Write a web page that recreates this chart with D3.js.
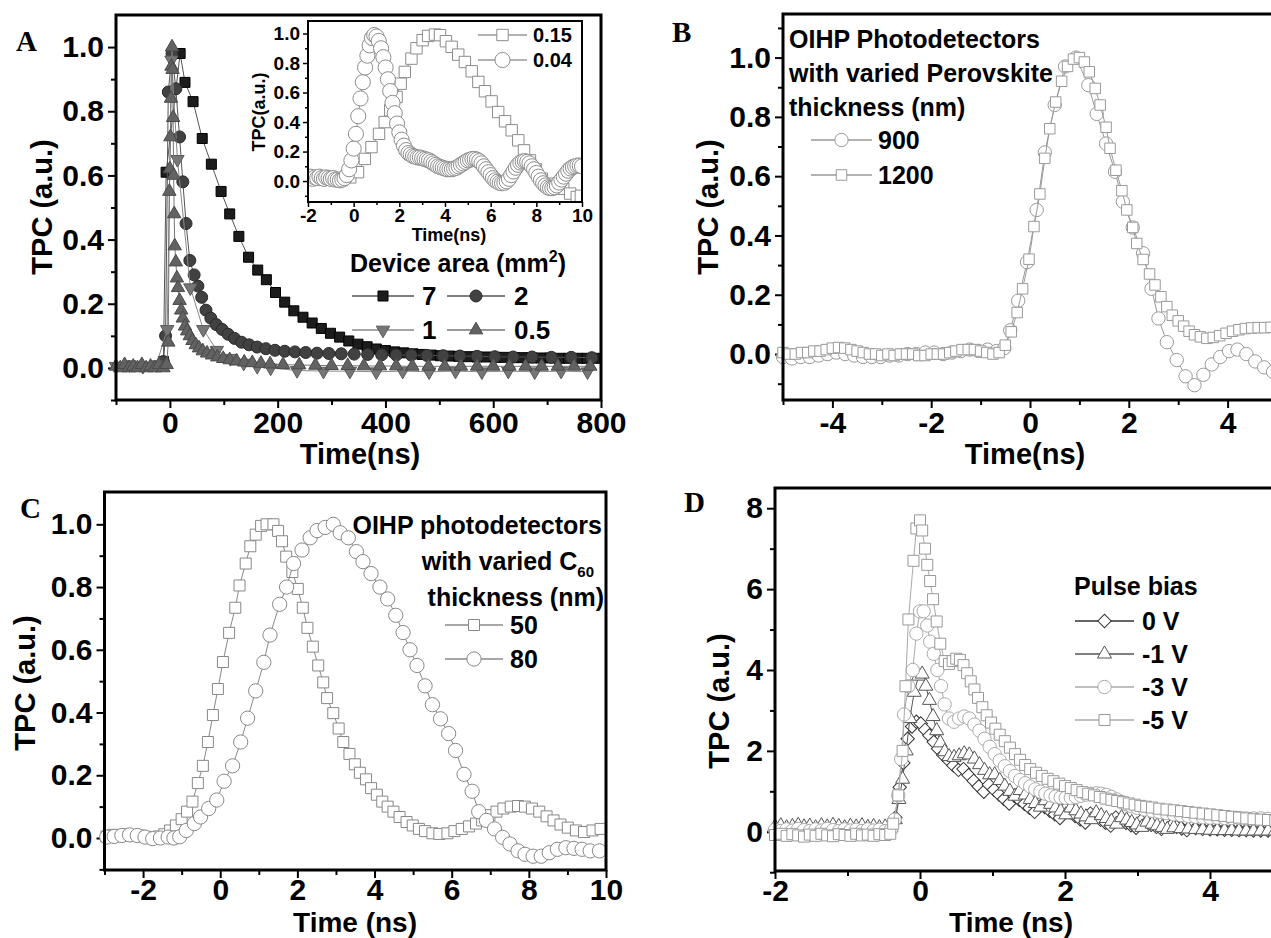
<!DOCTYPE html>
<html>
<head>
<meta charset="utf-8">
<script src="https://cdn.jsdelivr.net/npm/d3@7"></script>
<style>
  body { margin: 0; background: #fff; }
  svg { display: block; }
  text { font-family: "Liberation Sans", Arial, sans-serif; font-weight: bold; fill: #000; }
  text.letter { font-family: "Liberation Serif", "Times New Roman", serif; }
</style>
</head>
<body>
<svg id="fig" width="1271" height="938"></svg>
<script>
// ---------- data: [time, TPC] ----------

// A: device area series (mm^2), time in ns
const area7 = [[-12,0.02],[-7,0.61],[19,0.98],[28,0.89],[43,0.83],[60,0.715],[77,0.635],[95,0.55],[111,0.48],[128,0.41],[146,0.345],[163,0.305],[179,0.275],[196,0.235],[213,0.205],[230,0.178],[247,0.158],[264,0.14],[281,0.123],[298,0.108],[315,0.096],[332,0.084],[349,0.074],[366,0.066],[383,0.059],[400,0.054],[417,0.05],[434,0.047],[451,0.044],[468,0.042],[485,0.04],[502,0.038],[519,0.037],[536,0.036],[553,0.035],[570,0.034],[587,0.034],[604,0.033],[621,0.033],[638,0.032],[655,0.032],[672,0.031],[689,0.031],[706,0.031],[723,0.03],[740,0.03],[757,0.03],[774,0.03],[791,0.03]];
const area2 = [[-12,0.02],[-8,0.1],[-3,0.86],[4,0.98],[11,0.87],[18,0.72],[24,0.58],[30,0.45],[37,0.335],[45,0.29],[52,0.255],[59,0.22],[67,0.18],[76,0.155],[86,0.135],[97,0.12],[108,0.105],[120,0.092],[133,0.08],[147,0.072],[162,0.065],[178,0.06],[195,0.055],[213,0.052],[232,0.05],[252,0.048],[273,0.046],[295,0.045],[318,0.044],[342,0.043],[367,0.042],[393,0.041],[420,0.04],[448,0.04],[477,0.039],[507,0.038],[538,0.037],[570,0.036],[603,0.035],[637,0.034],[672,0.034],[708,0.033],[745,0.033],[783,0.032]];
const area1 = [[-100,0.005],[-75,0.01],[-50,0.005],[-25,0.01],[-5,0.12],[3,0.96],[14,0.65],[38,0.25],[62,0.12],[87,0.055],[112,0.03],[137,0.015],[162,0.005],[187,0.0],[236,-0.008],[285,-0.01],[334,-0.01],[383,-0.012],[432,-0.01],[481,-0.012],[530,-0.01],[579,-0.012],[628,-0.01],[677,-0.012],[726,-0.01],[775,-0.012]];
const area05 = [[-100,0.005],[-92,0.0],[-84,0.01],[-76,0.0],[-68,0.005],[-60,0.0],[-52,0.01],[-44,0.0],[-36,0.005],[-28,0.0],[-20,0.01],[-12,0.0],[-6,0.01],[-3,0.08],[-1,0.55],[0,0.62],[1,0.72],[2,0.84],[3,0.94],[4,1.0],[5,0.93],[6,0.78],[7,0.6],[8,0.48],[9,0.38],[11,0.33],[13,0.28],[15,0.25],[18,0.21],[21,0.18],[24,0.155],[28,0.13],[32,0.115],[37,0.1],[42,0.085],[48,0.072],[54,0.062],[61,0.053],[69,0.046],[78,0.04],[88,0.034],[99,0.029],[111,0.025],[124,0.021],[138,0.018],[153,0.016],[169,0.014],[186,0.012],[210,0.01],[240,0.009],[270,0.008],[300,0.007],[330,0.007],[360,0.006],[390,0.006],[420,0.006],[450,0.005],[480,0.005],[510,0.005],[540,0.005],[570,0.005],[600,0.005],[630,0.005],[660,0.005],[690,0.005],[720,0.005],[750,0.005],[780,0.005]];

// A inset: 0.15 and 0.04 mm^2
const inset015 = [[-1.95,0.02],[-1.66,0.015],[-1.37,0.02],[-1.08,0.015],[-0.79,0.02],[-0.5,0.01],[-0.15,0.025],[0.19,0.06],[0.49,0.15],[0.78,0.23],[1.11,0.32],[1.36,0.4],[1.6,0.48],[1.88,0.57],[2.06,0.66],[2.24,0.74],[2.53,0.83],[2.75,0.9],[3.02,0.955],[3.26,0.984],[3.56,0.993],[3.78,0.989],[4.04,0.948],[4.29,0.91],[4.58,0.857],[4.87,0.807],[5.17,0.744],[5.46,0.672],[5.75,0.609],[6.04,0.54],[6.33,0.468],[6.63,0.405],[6.92,0.344],[7.21,0.276],[7.46,0.208],[7.72,0.14],[7.98,0.079],[8.24,0.016],[8.57,-0.018],[8.9,-0.04],[9.18,-0.052],[9.48,-0.085],[9.77,-0.108],[9.95,-0.1]];
const inset004 = [[-2.0,0.02],[-1.9,0.03],[-1.8,0.015],[-1.7,0.025],[-1.6,0.02],[-1.5,0.03],[-1.4,0.02],[-1.3,0.015],[-1.2,0.025],[-1.1,0.02],[-1.0,0.015],[-0.9,0.02],[-0.8,0.01],[-0.7,0.01],[-0.6,0.005],[-0.5,0.01],[-0.4,0.02],[-0.3,0.04],[-0.2,0.08],[-0.1,0.14],[0.0,0.22],[0.1,0.32],[0.2,0.44],[0.3,0.56],[0.4,0.67],[0.5,0.77],[0.6,0.85],[0.7,0.92],[0.8,0.97],[0.9,0.99],[1.0,0.98],[1.1,0.95],[1.2,0.9],[1.3,0.84],[1.4,0.77],[1.5,0.69],[1.6,0.61],[1.7,0.53],[1.8,0.46],[1.9,0.39],[2.0,0.33],[2.1,0.28],[2.2,0.24],[2.3,0.21],[2.4,0.19],[2.5,0.18],[2.6,0.17],[2.7,0.165],[2.8,0.16],[2.9,0.16],[3.0,0.155],[3.1,0.15],[3.2,0.145],[3.3,0.14],[3.4,0.13],[3.5,0.12],[3.6,0.11],[3.7,0.1],[3.8,0.095],[3.9,0.09],[4.0,0.085],[4.1,0.08],[4.2,0.08],[4.3,0.08],[4.4,0.085],[4.5,0.09],[4.6,0.1],[4.7,0.11],[4.8,0.12],[4.9,0.13],[5.0,0.14],[5.1,0.145],[5.2,0.15],[5.3,0.15],[5.4,0.145],[5.5,0.135],[5.6,0.12],[5.7,0.1],[5.8,0.08],[5.9,0.06],[6.0,0.04],[6.1,0.02],[6.2,0.005],[6.3,-0.005],[6.4,-0.012],[6.5,-0.015],[6.6,-0.012],[6.7,-0.002],[6.8,0.015],[6.9,0.04],[7.0,0.065],[7.1,0.09],[7.2,0.11],[7.3,0.125],[7.4,0.132],[7.5,0.135],[7.6,0.13],[7.7,0.12],[7.8,0.1],[7.9,0.08],[8.0,0.055],[8.1,0.03],[8.2,0.005],[8.3,-0.015],[8.4,-0.03],[8.5,-0.042],[8.6,-0.048],[8.7,-0.048],[8.8,-0.042],[8.9,-0.03],[9.0,-0.01],[9.1,0.01],[9.2,0.03],[9.3,0.05],[9.4,0.07],[9.5,0.085],[9.6,0.095],[9.7,0.1],[9.8,0.105],[9.9,0.105],[10.0,0.1]];

// B: perovskite thickness 900 / 1200 nm
const perov900 = [[-5.0,-0.01],[-4.82,-0.015],[-4.64,-0.01],[-4.46,-0.01],[-4.28,-0.005],[-4.1,0.0],[-3.92,0.005],[-3.74,0.0],[-3.56,-0.005],[-3.38,-0.01],[-3.2,-0.01],[-3.02,-0.01],[-2.84,-0.005],[-2.66,-0.005],[-2.48,0.0],[-2.3,0.0],[-2.12,0.005],[-1.94,0.005],[-1.76,0.0],[-1.58,0.005],[-1.4,0.01],[-1.22,0.015],[-1.04,0.01],[-0.86,0.015],[-0.68,0.01],[-0.52,0.02],[-0.4,0.08],[-0.24,0.18],[-0.06,0.31],[0.135,0.486],[0.3,0.68],[0.5,0.84],[0.71,0.97],[0.93,1.0],[1.18,0.907],[1.35,0.81],[1.54,0.71],[1.72,0.615],[1.88,0.514],[2.08,0.427],[2.29,0.34],[2.46,0.22],[2.6,0.12],[2.77,0.04],[2.97,-0.02],[3.15,-0.075],[3.33,-0.105],[3.51,-0.07],[3.68,-0.035],[3.85,-0.01],[4.03,0.01],[4.2,0.015],[4.38,0.0],[4.56,-0.025],[4.74,-0.045],[4.92,-0.06]];
const perov1200 = [[-5.0,0.005],[-4.875,0.0],[-4.75,0.0],[-4.625,0.005],[-4.5,0.005],[-4.375,0.01],[-4.25,0.01],[-4.125,0.015],[-4.0,0.02],[-3.875,0.022],[-3.75,0.02],[-3.625,0.015],[-3.5,0.01],[-3.375,0.005],[-3.25,0.0],[-3.125,0.0],[-3.0,-0.005],[-2.875,0.0],[-2.75,-0.005],[-2.625,0.0],[-2.5,0.0],[-2.375,0.0],[-2.25,-0.005],[-2.125,-0.005],[-2.0,0.0],[-1.875,0.0],[-1.75,0.0],[-1.625,0.005],[-1.5,0.01],[-1.375,0.015],[-1.25,0.015],[-1.125,0.015],[-1.0,0.01],[-0.875,0.005],[-0.75,0.0],[-0.625,0.005],[-0.5,0.03],[-0.38,0.075],[-0.26,0.14],[-0.15,0.22],[-0.02,0.32],[0.08,0.43],[0.2,0.54],[0.3,0.66],[0.4,0.76],[0.52,0.85],[0.64,0.92],[0.76,0.97],[0.88,0.995],[1.0,1.0],[1.1,0.985],[1.2,0.952],[1.32,0.896],[1.42,0.84],[1.54,0.765],[1.62,0.694],[1.74,0.62],[1.86,0.551],[1.96,0.486],[2.08,0.427],[2.16,0.373],[2.29,0.319],[2.42,0.27],[2.53,0.233],[2.65,0.193],[2.77,0.16],[2.88,0.131],[3.0,0.112],[3.11,0.094],[3.22,0.077],[3.33,0.065],[3.45,0.058],[3.58,0.053],[3.71,0.056],[3.84,0.062],[3.97,0.07],[4.1,0.077],[4.23,0.082],[4.36,0.086],[4.49,0.088],[4.62,0.089],[4.75,0.089],[4.88,0.09]];

// C: C60 thickness 50 / 80 nm
const c60_50 = [[-2.95,0.005],[-2.78,0.01],[-2.61,0.008],[-2.44,0.012],[-2.27,0.01],[-2.1,0.008],[-1.93,0.004],[-1.76,0.0],[-1.59,0.005],[-1.45,0.012],[-1.3,0.024],[-1.15,0.04],[-1.0,0.06],[-0.86,0.084],[-0.72,0.116],[-0.58,0.175],[-0.45,0.23],[-0.32,0.306],[-0.19,0.392],[-0.06,0.475],[0.07,0.561],[0.23,0.654],[0.39,0.734],[0.5,0.805],[0.66,0.875],[0.78,0.93],[0.92,0.967],[1.06,0.995],[1.2,1.0],[1.38,1.0],[1.5,0.979],[1.6,0.946],[1.71,0.897],[1.87,0.848],[2.01,0.794],[2.14,0.734],[2.26,0.67],[2.4,0.61],[2.54,0.55],[2.67,0.496],[2.77,0.446],[2.93,0.398],[3.07,0.349],[3.19,0.306],[3.35,0.268],[3.49,0.235],[3.62,0.208],[3.78,0.187],[3.91,0.159],[4.06,0.138],[4.2,0.116],[4.34,0.1],[4.49,0.084],[4.65,0.067],[4.83,0.051],[4.99,0.04],[5.15,0.029],[5.31,0.022],[5.5,0.015],[5.68,0.013],[5.89,0.015],[6.07,0.022],[6.26,0.029],[6.45,0.037],[6.63,0.046],[6.79,0.056],[6.98,0.073],[7.16,0.084],[7.34,0.094],[7.53,0.1],[7.72,0.102],[7.9,0.1],[8.08,0.094],[8.27,0.084],[8.46,0.069],[8.64,0.056],[8.82,0.043],[9.01,0.033],[9.22,0.024],[9.43,0.019],[9.65,0.024],[9.86,0.029]];
const c60_80 = [[-2.94,0.003],[-2.75,0.005],[-2.55,0.008],[-2.35,0.01],[-2.15,0.008],[-1.95,0.003],[-1.75,-0.002],[-1.55,0.0],[-1.35,0.003],[-1.2,0.0],[-1.05,0.004],[-0.88,0.024],[-0.67,0.046],[-0.51,0.067],[-0.3,0.094],[-0.09,0.121],[0.1,0.181],[0.32,0.23],[0.53,0.306],[0.71,0.382],[0.92,0.469],[1.13,0.56],[1.29,0.647],[1.54,0.745],[1.72,0.8],[1.9,0.875],[2.12,0.918],[2.33,0.957],[2.51,0.98],[2.72,0.99],[2.93,1.0],[3.11,0.973],[3.32,0.957],[3.53,0.913],[3.7,0.881],[3.91,0.843],[4.14,0.8],[4.34,0.762],[4.55,0.71],[4.74,0.655],[4.92,0.6],[5.1,0.55],[5.31,0.485],[5.5,0.425],[5.71,0.38],[5.92,0.333],[6.1,0.279],[6.32,0.203],[6.53,0.149],[6.7,0.084],[6.9,0.056],[7.11,0.029],[7.32,0.002],[7.51,-0.019],[7.72,-0.041],[7.9,-0.052],[8.11,-0.058],[8.32,-0.058],[8.53,-0.047],[8.74,-0.036],[8.96,-0.031],[9.17,-0.033],[9.38,-0.036],[9.59,-0.041],[9.83,-0.041]];

// D: pulse bias 0 / -1 / -3 / -5 V
const bias0 = [[-2.0,0.05],[-1.92,0.08],[-1.84,0.04],[-1.76,0.07],[-1.68,0.05],[-1.6,0.1],[-1.52,0.06],[-1.44,0.08],[-1.36,0.05],[-1.28,0.09],[-1.2,0.06],[-1.12,0.1],[-1.04,0.07],[-0.96,0.05],[-0.88,0.08],[-0.8,0.06],[-0.72,0.1],[-0.64,0.05],[-0.56,0.07],[-0.48,0.04],[-0.4,0.08],[-0.34,0.35],[-0.28,1.1],[-0.23,1.7],[-0.17,2.3],[-0.11,2.6],[-0.05,2.72],[0.01,2.68],[0.07,2.52],[0.13,2.38],[0.19,2.22],[0.25,2.05],[0.32,1.9],[0.39,1.77],[0.46,1.64],[0.53,1.53],[0.6,1.55],[0.67,1.4],[0.74,1.26],[0.81,1.12],[0.88,0.99],[0.95,1.16],[1.02,1.04],[1.09,0.92],[1.16,0.81],[1.23,0.7],[1.3,0.89],[1.37,0.79],[1.44,0.69],[1.51,0.59],[1.58,0.49],[1.65,0.7],[1.72,0.61],[1.79,0.52],[1.86,0.43],[1.93,0.34],[2.0,0.56],[2.07,0.48],[2.14,0.39],[2.21,0.31],[2.28,0.23],[2.35,0.45],[2.42,0.37],[2.49,0.3],[2.56,0.22],[2.63,0.15],[2.7,0.35],[2.77,0.29],[2.84,0.22],[2.91,0.16],[2.98,0.1],[3.05,0.27],[3.12,0.22],[3.19,0.17],[3.26,0.12],[3.33,0.07],[3.4,0.2],[3.47,0.16],[3.54,0.12],[3.61,0.08],[3.68,0.04],[3.8,0.09],[3.9,0.07],[4.0,0.06],[4.1,0.06],[4.2,0.05],[4.3,0.05],[4.4,0.04],[4.5,0.04],[4.6,0.03],[4.7,0.03],[4.8,0.03],[4.9,0.02],[5.0,0.02]];
const bias1 = [[-2.0,0.12],[-1.92,0.15],[-1.84,0.1],[-1.76,0.13],[-1.68,0.16],[-1.6,0.12],[-1.52,0.14],[-1.44,0.1],[-1.36,0.15],[-1.28,0.12],[-1.2,0.16],[-1.12,0.13],[-1.04,0.1],[-0.96,0.14],[-0.88,0.12],[-0.8,0.15],[-0.72,0.11],[-0.64,0.13],[-0.56,0.1],[-0.48,0.12],[-0.4,0.1],[-0.34,0.3],[-0.29,0.8],[-0.24,1.3],[-0.19,2.0],[-0.14,2.8],[-0.08,3.45],[-0.02,3.85],[0.03,3.9],[0.08,3.6],[0.13,3.25],[0.18,2.85],[0.23,2.5],[0.28,2.2],[0.34,1.98],[0.4,1.86],[0.47,1.84],[0.54,1.88],[0.61,1.93],[0.68,1.9],[0.75,1.8],[0.82,1.66],[0.89,1.52],[0.96,1.41],[1.03,1.41],[1.1,1.27],[1.17,1.13],[1.24,1.0],[1.31,0.88],[1.38,1.02],[1.45,0.91],[1.52,0.8],[1.59,0.7],[1.66,0.61],[1.73,0.77],[1.8,0.68],[1.87,0.59],[1.94,0.51],[2.01,0.42],[2.08,0.59],[2.15,0.52],[2.22,0.44],[2.29,0.37],[2.36,0.3],[2.43,0.47],[2.5,0.4],[2.57,0.33],[2.64,0.26],[2.71,0.19],[2.78,0.35],[2.85,0.29],[2.92,0.23],[2.99,0.17],[3.06,0.11],[3.13,0.24],[3.2,0.19],[3.27,0.15],[3.34,0.11],[3.41,0.06],[3.5,0.1],[3.6,0.08],[3.7,0.07],[3.8,0.06],[3.9,0.05],[4.0,0.04],[4.1,0.03],[4.2,0.03],[4.3,0.03],[4.4,0.02],[4.5,0.02],[4.6,0.02],[4.7,0.02],[4.8,0.02],[4.9,0.02],[5.0,0.02]];
const bias3 = [[-2.0,0.05],[-1.92,0.02],[-1.84,0.06],[-1.76,0.03],[-1.68,0.07],[-1.6,0.04],[-1.52,0.02],[-1.44,0.06],[-1.36,0.03],[-1.28,0.07],[-1.2,0.04],[-1.12,0.02],[-1.04,0.06],[-0.96,0.03],[-0.88,0.05],[-0.8,0.02],[-0.72,0.06],[-0.64,0.03],[-0.56,0.05],[-0.48,0.02],[-0.4,0.05],[-0.35,0.3],[-0.3,0.9],[-0.26,1.8],[-0.22,2.9],[-0.16,3.6],[-0.1,4.0],[-0.05,4.9],[0.0,5.45],[0.05,5.45],[0.1,5.1],[0.14,4.7],[0.19,4.4],[0.24,4.0],[0.29,3.6],[0.34,3.15],[0.4,2.8],[0.47,2.72],[0.54,2.8],[0.61,2.85],[0.68,2.8],[0.75,2.65],[0.82,2.5],[0.89,2.3],[0.96,2.1],[1.03,1.92],[1.1,1.76],[1.17,1.62],[1.24,1.5],[1.31,1.38],[1.38,1.28],[1.45,1.2],[1.52,1.12],[1.59,1.05],[1.66,0.99],[1.73,0.94],[1.8,0.9],[1.87,0.87],[1.94,0.85],[2.01,0.84],[2.08,0.84],[2.15,0.86],[2.22,0.89],[2.29,0.92],[2.36,0.94],[2.43,0.95],[2.5,0.94],[2.57,0.91],[2.64,0.86],[2.71,0.8],[2.78,0.74],[2.85,0.68],[2.92,0.63],[3.0,0.59],[3.1,0.55],[3.2,0.52],[3.3,0.49],[3.4,0.46],[3.5,0.43],[3.6,0.41],[3.7,0.39],[3.8,0.37],[3.9,0.36],[4.0,0.35],[4.1,0.35],[4.2,0.34],[4.3,0.34],[4.4,0.34],[4.5,0.33],[4.6,0.33],[4.7,0.33],[4.8,0.32],[4.9,0.32],[5.0,0.32]];
const bias5 = [[-2.0,-0.08],[-1.92,-0.05],[-1.84,-0.1],[-1.76,-0.06],[-1.68,-0.09],[-1.6,-0.12],[-1.52,-0.07],[-1.44,-0.1],[-1.36,-0.05],[-1.28,-0.09],[-1.2,-0.11],[-1.12,-0.06],[-1.04,-0.08],[-0.96,-0.1],[-0.88,-0.05],[-0.8,-0.09],[-0.72,-0.07],[-0.64,-0.1],[-0.56,-0.06],[-0.48,-0.08],[-0.41,-0.05],[-0.37,0.2],[-0.3,0.9],[-0.24,2.0],[-0.2,3.6],[-0.16,5.25],[-0.09,6.7],[-0.05,7.5],[0.0,7.7],[0.03,7.45],[0.07,7.0],[0.1,6.6],[0.14,6.2],[0.18,5.75],[0.23,5.2],[0.28,4.65],[0.34,4.22],[0.4,4.15],[0.45,4.22],[0.5,4.28],[0.55,4.25],[0.6,4.12],[0.65,3.92],[0.7,3.72],[0.75,3.52],[0.8,3.31],[0.86,3.08],[0.92,2.88],[0.98,2.7],[1.04,2.55],[1.1,2.4],[1.17,2.24],[1.24,2.08],[1.31,1.92],[1.38,1.78],[1.45,1.65],[1.52,1.55],[1.6,1.46],[1.68,1.38],[1.76,1.31],[1.84,1.25],[1.92,1.19],[2.0,1.13],[2.08,1.08],[2.16,1.03],[2.24,0.98],[2.32,0.94],[2.4,0.9],[2.48,0.86],[2.56,0.82],[2.64,0.79],[2.72,0.76],[2.8,0.73],[2.88,0.7],[2.96,0.67],[3.04,0.64],[3.12,0.62],[3.2,0.6],[3.3,0.57],[3.4,0.55],[3.5,0.53],[3.6,0.51],[3.7,0.49],[3.8,0.47],[3.9,0.45],[4.0,0.43],[4.1,0.41],[4.2,0.39],[4.3,0.37],[4.4,0.35],[4.5,0.33],[4.6,0.31],[4.7,0.3],[4.8,0.29],[4.9,0.28],[5.0,0.27]];

// tick values
const aXTicks = [0, 200, 400, 600, 800];
const aXMinor = [-100, 100, 300, 500, 700];
const unitTicks = [0, 0.2, 0.4, 0.6, 0.8, 1.0];
const unitMinor = [-0.1, 0.1, 0.3, 0.5, 0.7, 0.9];
const insetXTicks = [-2, 0, 2, 4, 6, 8, 10];
const insetXMinor = [-1, 1, 3, 5, 7, 9];
const bXTicks = [-4, -2, 0, 2, 4];
const bXMinor = [-5, -3, -1, 1, 3, 5];
const cXTicks = [-2, 0, 2, 4, 6, 8, 10];
const cXMinor = [-3, -1, 1, 3, 5, 7, 9];
const dXTicks = [-2, 0, 2, 4];
const dXMinor = [-1, 1, 3, 5];
const dYTicks = [0, 2, 4, 6, 8];
const dYMinor = [-1, 1, 3, 5, 7];

// ---------- drawing ----------
const svg = d3.select("#fig");
const MAIN_TICK = { major: 8, minor: 5, width: 2, padX: 4, padY: 4, font: 30 };
const LOW_TICK = { major: 8, minor: 5, width: 2, padX: 1, padY: 4, font: 30 };
const INSET_TICK = { major: 5, minor: 3, width: 1.5, padX: 2, padY: 3, font: 19 };
const fmt1 = d => d.toFixed(1);
const fmt0 = d => String(d);

function panel(o) {
  const x = d3.scaleLinear().domain(o.xDomain).range([o.left, o.right]);
  const y = d3.scaleLinear().domain(o.yDomain).range([o.bottom, o.top]);
  const tk = o.tick;
  const g = svg.append("g");
  if (o.bg) {
    g.append("rect").attr("x", o.left).attr("y", o.top)
      .attr("width", o.right - o.left).attr("height", o.bottom - o.top).attr("fill", "#fff");
  }
  const add = (axis, tr) => g.append("g").attr("class", "ax").attr("transform", tr).call(axis);
  add(d3.axisBottom(x).tickValues(o.xMinor).tickSizeInner(tk.minor).tickSizeOuter(0).tickFormat(""), `translate(0,${o.bottom})`);
  add(d3.axisLeft(y).tickValues(o.yMinor).tickSizeInner(tk.minor).tickSizeOuter(0).tickFormat(""), `translate(${o.left},0)`);
  add(d3.axisBottom(x).tickValues(o.xTicks).tickSizeInner(tk.major).tickSizeOuter(0).tickPadding(tk.padX).tickFormat(o.xFmt), `translate(0,${o.bottom})`);
  add(d3.axisLeft(y).tickValues(o.yTicks).tickSizeInner(tk.major).tickSizeOuter(0).tickPadding(tk.padY).tickFormat(o.yFmt), `translate(${o.left},0)`);
  g.selectAll(".ax .domain").remove();
  g.selectAll(".ax line").attr("stroke", "#000").attr("stroke-width", tk.width);
  g.selectAll(".ax text").style("font-size", tk.font + "px").attr("fill", "#000");

  const legend = g.append("g");
  const data = g.append("g");
  if (o.clip) {
    const id = "clip" + Math.round(o.left);
    g.append("clipPath").attr("id", id).append("rect")
      .attr("x", o.left).attr("y", o.top).attr("width", o.right - o.left).attr("height", o.bottom - o.top);
    data.attr("clip-path", `url(#${id})`);
  }
  g.append("rect").attr("x", o.left).attr("y", o.top)
    .attr("width", o.right - o.left).attr("height", o.bottom - o.top)
    .attr("fill", "none").attr("stroke", "#000").attr("stroke-width", o.frame);
  return { g, legend, data, x, y };
}

function marker(sel, st) {
  return sel.attr("d", d3.symbol().type(st.type).size(st.size))
    .attr("fill", st.fill).attr("stroke", st.stroke).attr("stroke-width", st.sw || 1);
}

function drawSeries(p, rows, st) {
  const line = d3.line().x(d => p.x(d[0])).y(d => p.y(d[1]));
  p.data.append("path").datum(rows).attr("d", line)
    .attr("fill", "none").attr("stroke", st.line).attr("stroke-width", st.lw || 1);
  marker(p.data.append("g").selectAll("path").data(rows).join("path")
    .attr("transform", d => `translate(${p.x(d[0])},${p.y(d[1])}) rotate(${st.rot || 0})`), st);
}

function label(g, x, y, txt, size, anchor, rot, cls) {
  const t = g.append("text")
    .attr("transform", `translate(${x},${y})` + (rot ? ` rotate(${rot})` : ""))
    .attr("text-anchor", anchor || "start").style("font-size", size + "px").text(txt);
  if (cls) t.attr("class", cls);
  return t;
}

function legendRow(g, x1, x2, cy, st, txt, tx, size) {
  g.append("line").attr("x1", x1).attr("x2", x2).attr("y1", cy).attr("y2", cy)
    .attr("stroke", st.line).attr("stroke-width", 1.3);
  marker(g.append("path").attr("transform", `translate(${(x1 + x2) / 2},${cy}) rotate(${st.rot || 0})`), st);
  label(g, tx, cy + size * 0.36, txt, size);
}

// marker styles
const sq = d3.symbolSquare, ci = d3.symbolCircle, tri = d3.symbolTriangle;
const stA7 = { type: sq, size: 100, fill: "#1c1c1c", stroke: "#000", line: "#555" };
const stA2 = { type: ci, size: 113, fill: "#414141", stroke: "#2a2a2a", line: "#555" };
const stA1 = { type: tri, size: 78, rot: 180, fill: "#767676", stroke: "#5a5a5a", line: "#888" };
const stA05 = { type: tri, size: 78, fill: "#626262", stroke: "#4a4a4a", line: "#777" };
const stI15 = { type: sq, size: 130, fill: "#fff", stroke: "#8c8c8c", line: "#999" };
const stI04 = { type: ci, size: 180, fill: "#fff", stroke: "#8c8c8c", line: "#999" };
const stB900 = { type: ci, size: 140, fill: "#fff", stroke: "#999", line: "#999" };
const stB1200 = { type: sq, size: 110, fill: "#fff", stroke: "#999", line: "#999" };
const stC50 = { type: sq, size: 121, fill: "#fff", stroke: "#888", line: "#888" };
const stC80 = { type: ci, size: 160, fill: "#fff", stroke: "#888", line: "#888" };
const stD0 = { type: sq, size: 90, rot: 45, fill: "#fff", stroke: "#333", line: "#333" };
const stD1 = { type: tri, size: 85, fill: "#fff", stroke: "#555", line: "#555" };
const stD3 = { type: ci, size: 140, fill: "#fff", stroke: "#aaa", line: "#aaa" };
const stD5 = { type: sq, size: 121, fill: "#fff", stroke: "#999", line: "#aaa" };

// ---- panel A ----
const pA = panel({ left: 116, right: 601, top: 15, bottom: 400, xDomain: [-100, 800], yDomain: [-0.1, 1.1],
  xTicks: aXTicks, xMinor: aXMinor, yTicks: unitTicks, yMinor: unitMinor, xFmt: fmt0, yFmt: fmt1,
  tick: MAIN_TICK, frame: 3 });
drawSeries(pA, area7, stA7);
drawSeries(pA, area2, stA2);
drawSeries(pA, area1, stA1);
drawSeries(pA, area05, stA05);
label(pA.g, 360, 464, "Time(ns)", 29, "middle");
label(pA.g, 52, 207, "TPC (a.u.)", 29, "middle", -90);
label(svg, 16, 51, "A", 29, "start", 0, "letter");
const devT = label(pA.legend, 350, 272, "Device area (mm", 25);
devT.append("tspan").attr("dy", -10).style("font-size", "16px").text("2");
devT.append("tspan").attr("dy", 10).text(")");
legendRow(pA.legend, 352, 414, 296, stA7, "7", 422, 26);
legendRow(pA.legend, 447, 505, 296, stA2, "2", 514, 26);
legendRow(pA.legend, 352, 414, 330, stA1, "1", 422, 26);
legendRow(pA.legend, 447, 505, 330, stA05, "0.5", 514, 26);

// ---- inset of A ----
const pI = panel({ left: 308, right: 582, top: 21, bottom: 202, xDomain: [-2, 10], yDomain: [-0.142, 1.085],
  xTicks: insetXTicks, xMinor: insetXMinor, yTicks: unitTicks, yMinor: unitMinor, xFmt: fmt0, yFmt: fmt1,
  tick: INSET_TICK, frame: 2, bg: true, clip: true });
drawSeries(pI, inset015, stI15);
drawSeries(pI, inset004, stI04);
label(pI.g, 449, 241, "Time(ns)", 18, "middle");
label(pI.g, 265, 112, "TPC(a.u.)", 18, "middle", -90);
legendRow(svg, 478, 527, 35, stI15, "0.15", 533, 20);
legendRow(svg, 478, 527, 60, stI04, "0.04", 533, 20);

// ---- panel B ----
const pB = panel({ left: 783, right: 1277, top: 14, bottom: 400, xDomain: [-5, 5], yDomain: [-0.155, 1.147],
  xTicks: bXTicks, xMinor: bXMinor, yTicks: unitTicks, yMinor: unitMinor.concat([1.1]), xFmt: fmt0, yFmt: fmt1,
  tick: MAIN_TICK, frame: 3 });
label(pB.legend, 789, 48, "OIHP Photodetectors", 25);
label(pB.legend, 789, 82, "with varied Perovskite", 25);
label(pB.legend, 789, 116, "thickness (nm)", 25);
legendRow(pB.legend, 811, 872, 140, stB900, "900", 878, 25);
legendRow(pB.legend, 811, 872, 175, stB1200, "1200", 878, 25);
drawSeries(pB, perov900, stB900);
drawSeries(pB, perov1200, stB1200);
label(pB.g, 1025, 464, "Time(ns)", 29, "middle");
label(pB.g, 718, 207, "TPC (a.u.)", 29, "middle", -90);
label(svg, 672, 42, "B", 29, "start", 0, "letter");

// ---- panel C ----
const pC = panel({ left: 104.5, right: 606, top: 492, bottom: 870, xDomain: [-3, 10], yDomain: [-0.102, 1.103],
  xTicks: cXTicks, xMinor: cXMinor, yTicks: unitTicks, yMinor: unitMinor, xFmt: fmt0, yFmt: fmt1,
  tick: LOW_TICK, frame: 3 });
label(pC.legend, 602, 534, "OIHP photodetectors", 25, "end");
const cT = label(pC.legend, 594, 570, "with varied C", 25, "end");
cT.append("tspan").attr("dy", 7).style("font-size", "15px").text("60");
label(pC.legend, 604, 606, "thickness (nm)", 25, "end");
legendRow(pC.legend, 445, 503, 625, stC50, "50", 510, 25);
legendRow(pC.legend, 445, 503, 659, stC80, "80", 510, 25);
drawSeries(pC, c60_50, stC50);
drawSeries(pC, c60_80, stC80);
label(pC.g, 355, 932, "Time (ns)", 28, "middle");
label(pC.g, 35, 683, "TPC (a.u.)", 29, "middle", -90);
label(svg, 20, 518, "C", 29, "start", 0, "letter");

// ---- panel D ----
const pD = panel({ left: 775, right: 1282.5, top: 488, bottom: 871, xDomain: [-2, 5], yDomain: [-0.97, 8.5],
  xTicks: dXTicks, xMinor: dXMinor, yTicks: dYTicks, yMinor: dYMinor, xFmt: fmt0, yFmt: fmt0,
  tick: LOW_TICK, frame: 3 });
label(pD.legend, 1074, 595, "Pulse bias", 25);
legendRow(pD.legend, 1075, 1134, 621, stD0, "0 V", 1142, 25);
legendRow(pD.legend, 1075, 1134, 654, stD1, "-1 V", 1142, 25);
legendRow(pD.legend, 1075, 1134, 687, stD3, "-3 V", 1142, 25);
legendRow(pD.legend, 1075, 1134, 720, stD5, "-5 V", 1142, 25);
drawSeries(pD, bias0, stD0);
drawSeries(pD, bias1, stD1);
drawSeries(pD, bias3, stD3);
drawSeries(pD, bias5, stD5);
label(pD.g, 1011, 932, "Time (ns)", 28, "middle");
label(pD.g, 729, 701, "TPC (a.u.)", 29, "middle", -90);
label(svg, 684, 512, "D", 29, "start", 0, "letter");
</script>
</body>
</html>
